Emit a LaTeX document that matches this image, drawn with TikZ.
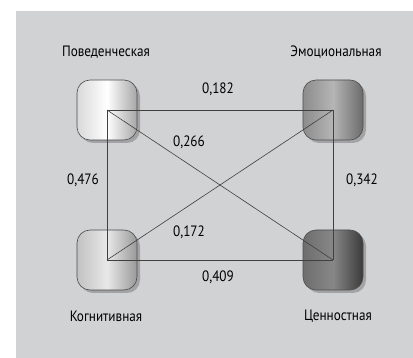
\documentclass[tikz,border=0pt]{standalone}
\usepackage{fontspec}
\setmainfont{PT Sans}[FakeStretch=0.88]
\usetikzlibrary{shadows}

\definecolor{panelgray}{RGB}{209,210,212}
\tikzset{
  facet/.style={draw=black!70, line width=0.6pt, rounded corners=13pt,
    minimum width=60pt, minimum height=60pt, inner sep=0pt,
    drop shadow={shadow xshift=3pt, shadow yshift=-3pt, opacity=0.22, fill=black}},
  facetname/.style={font=\fontsize{15}{17}\selectfont, inner sep=0pt},
  weight/.style={font=\fontsize{15}{17}\selectfont, inner sep=0pt},
  link/.style={draw=black!75, line width=0.6pt}
}

\begin{document}
\begin{tikzpicture}[x=1pt,y=1pt]
\useasboundingbox (0,0) rectangle (413,358);

%Background panel
\fill[panelgray] (16,0) rectangle (413,347);

%Shapes: the four facets
\node[facet, left color=black!15, right color=black!35, middle color=white] (pov) at (107,248) {};
\node[facet, left color=black!45, right color=black!58, middle color=black!29] (emo) at (333,248) {};
\node[facet, left color=black!24, right color=black!40, middle color=black!9] (kog) at (107,98) {};
\node[facet, left color=black!57, right color=black!77, middle color=black!47] (cen) at (333,98) {};

%Straight Lines
\draw[link] (pov.center) -- (emo.center);
\draw[link] (pov.center) -- (kog.center);
\draw[link] (emo.center) -- (cen.center);
\draw[link] (kog.center) -- (cen.center);
\draw[link] (pov.center) -- (cen.center);
\draw[link] (kog.center) -- (emo.center);

% Text Node
\node[facetname] (povname) at (106,306) {Поведенческая};
\node[facetname] (emoname) at (336,306) {Эмоциональная};
\node[facetname] (kogname) at (106,42) {Когнитивная};
\node[facetname] (cenname) at (338,42) {Ценностная};

% Text Node
\node[weight] (w182) at (218,269) {0,182};
\node[weight] (w266) at (189,216) {0,266};
\node[weight] (w476) at (83,178) {0,476};
\node[weight] (w342) at (362,178) {0,342};
\node[weight] (w172) at (189,126) {0,172};
\node[weight] (w409) at (218,81) {0,409};

\end{tikzpicture}
\end{document}
